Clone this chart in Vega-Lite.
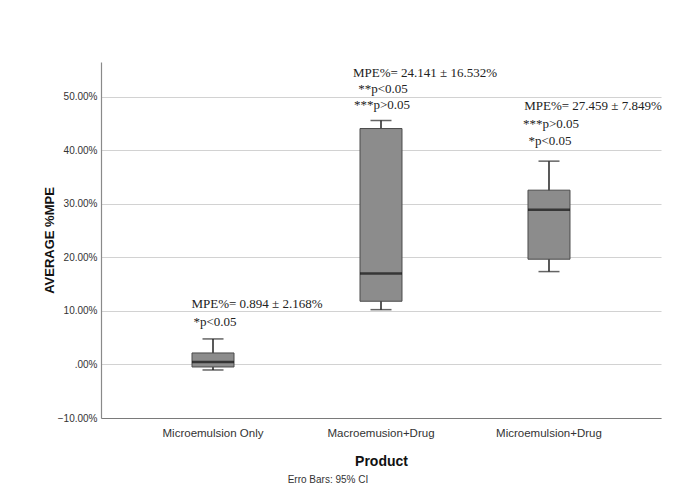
{
  "$schema": "https://vega.github.io/schema/vega-lite/v6.json",
  "width": 560,
  "height": 356,
  "autosize": "none",
  "padding": {"left": 101, "top": 62, "right": 22, "bottom": 75},
  "background": "white",
  "config": {
    "view": {"stroke": null},
    "font": "Liberation Sans"
  },
  "title": {
    "text": "Erro Bars: 95% CI",
    "orient": "bottom",
    "anchor": "middle",
    "dx": -53,
    "offset": 6,
    "fontSize": 10,
    "fontWeight": "normal",
    "font": "Liberation Sans",
    "color": "#333"
  },
  "datasets": {
    "boxes": [
      {"Product": "Microemulsion Only", "lower": -1.03, "q1": -0.47, "median": 0.47, "q3": 2.15, "upper": 4.77},
      {"Product": "Macroemusion+Drug", "lower": 10.24, "q1": 11.81, "median": 16.97, "q3": 44.07, "upper": 45.57},
      {"Product": "Microemulsion+Drug", "lower": 17.35, "q1": 19.66, "median": 28.88, "q3": 32.56, "upper": 37.98}
    ],
    "notes": [
      {"Product": "Microemulsion Only", "line": 1, "y": 11.31, "text": "MPE%= 0.894 ± 2.168%"},
      {"Product": "Microemulsion Only", "line": 2, "y": 7.94, "text": "*p<0.05"},
      {"Product": "Macroemusion+Drug", "line": 1, "y": 54.49, "text": "MPE%= 24.141 ± 16.532%"},
      {"Product": "Macroemusion+Drug", "line": 2, "y": 51.5, "text": "**p<0.05"},
      {"Product": "Macroemusion+Drug", "line": 3, "y": 48.5, "text": "***p>0.05"},
      {"Product": "Microemulsion+Drug", "line": 1, "y": 48.31, "text": "MPE%= 27.459 ± 7.849%"},
      {"Product": "Microemulsion+Drug", "line": 2, "y": 44.95, "text": "***p>0.05"},
      {"Product": "Microemulsion+Drug", "line": 3, "y": 41.78, "text": "*p<0.05"}
    ]
  },
  "encoding": {
    "x": {
      "field": "Product",
      "type": "nominal",
      "sort": ["Microemulsion Only", "Macroemusion+Drug", "Microemulsion+Drug"],
      "scale": {"paddingInner": 0.75, "paddingOuter": 0.5417},
      "axis": {
        "title": "Product",
        "titleFontSize": 14,
        "titleFontWeight": "bold",
        "titleColor": "#111",
        "titlePadding": 16,
        "labelAngle": 0,
        "labelFontSize": 11.5,
        "labelColor": "#333",
        "labelPadding": 9,
        "ticks": false,
        "tickSize": 0,
        "domainColor": "#7a7a7a",
        "domainWidth": 1.2
      }
    }
  },
  "layer": [
    {
      "data": {"name": "boxes"},
      "mark": {"type": "rule", "color": "#222", "strokeWidth": 1.5},
      "encoding": {
        "y": {
          "field": "lower",
          "type": "quantitative",
          "scale": {"domain": [-10, 56.5], "nice": false, "zero": false},
          "axis": {
            "title": "AVERAGE %MPE",
            "titleFontSize": 13,
            "titleFontWeight": "bold",
            "titleColor": "#111",
            "titlePadding": 1,
            "values": [-10, 0, 10, 20, 30, 40, 50],
            "labelExpr": "datum.value == 0 ? '.00%' : format(datum.value, '.2f') + '%'",
            "labelFontSize": 10,
            "labelColor": "#333",
            "labelPadding": 4,
            "ticks": false,
            "tickSize": 0,
            "domainColor": "#8a8a8a",
            "domainWidth": 1.2,
            "grid": true,
            "gridColor": "#d2d2d2",
            "gridWidth": 1.2
          }
        },
        "y2": {"field": "upper"}
      }
    },
    {
      "data": {"name": "boxes"},
      "mark": {"type": "tick", "color": "#222", "size": 21, "thickness": 1.5},
      "encoding": {"y": {"field": "upper", "type": "quantitative"}}
    },
    {
      "data": {"name": "boxes"},
      "mark": {"type": "tick", "color": "#222", "size": 21, "thickness": 1.5},
      "encoding": {"y": {"field": "lower", "type": "quantitative"}}
    },
    {
      "data": {"name": "boxes"},
      "mark": {"type": "bar", "fill": "#8c8c8c", "stroke": "#4a4a4a", "strokeWidth": 1},
      "encoding": {
        "y": {"field": "q1", "type": "quantitative"},
        "y2": {"field": "q3"}
      }
    },
    {
      "data": {"name": "boxes"},
      "mark": {"type": "tick", "color": "#111", "size": 42, "thickness": 2.5},
      "encoding": {"y": {"field": "median", "type": "quantitative"}}
    },
    {
      "data": {"name": "notes"},
      "transform": [{"filter": "datum.line == 1"}],
      "mark": {"type": "text", "font": "Liberation Serif", "fontSize": 13, "color": "#222", "align": "center", "baseline": "middle", "dx": 44},
      "encoding": {
        "y": {"field": "y", "type": "quantitative"},
        "text": {"field": "text"}
      }
    },
    {
      "data": {"name": "notes"},
      "transform": [{"filter": "datum.line == 2"}],
      "mark": {"type": "text", "font": "Liberation Serif", "fontSize": 13, "color": "#222", "align": "center", "baseline": "middle", "dx": 2},
      "encoding": {
        "y": {"field": "y", "type": "quantitative"},
        "text": {"field": "text"}
      }
    },
    {
      "data": {"name": "notes"},
      "transform": [{"filter": "datum.line == 3"}],
      "mark": {"type": "text", "font": "Liberation Serif", "fontSize": 13, "color": "#222", "align": "center", "baseline": "middle", "dx": 1},
      "encoding": {
        "y": {"field": "y", "type": "quantitative"},
        "text": {"field": "text"}
      }
    }
  ]
}
